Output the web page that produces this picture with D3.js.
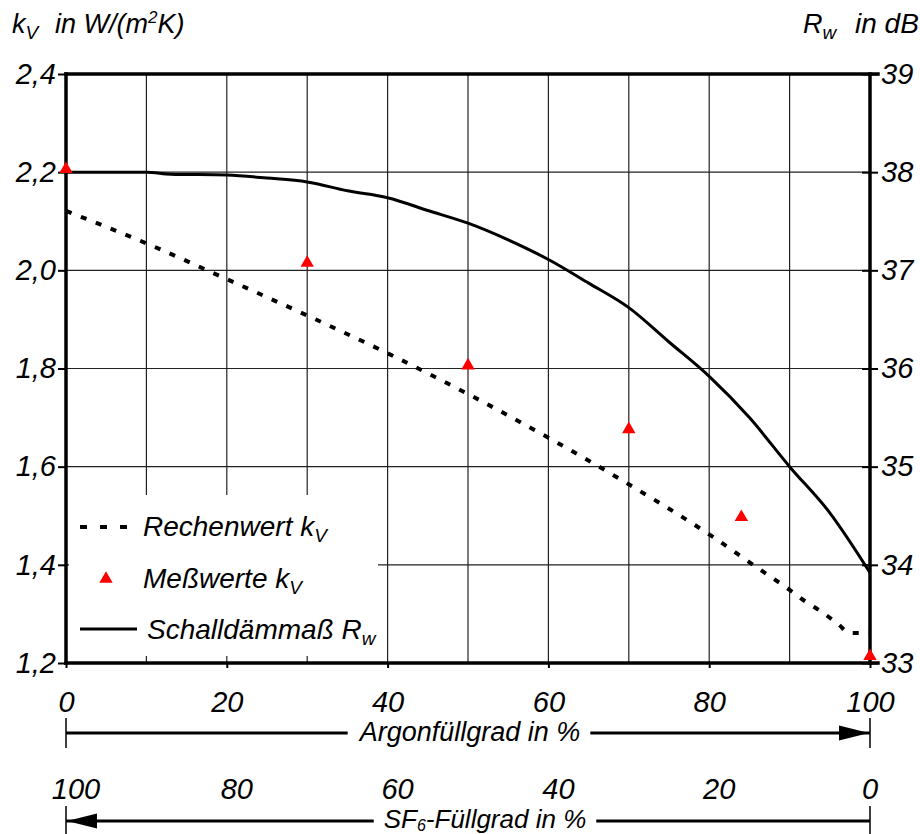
<!DOCTYPE html>
<html>
<head>
<meta charset="utf-8">
<script src="https://cdn.jsdelivr.net/npm/d3@7"></script>
<style>
  body { margin: 0; background: #fff; }
  text { font-family: "Liberation Sans", Arial, sans-serif; font-style: italic; fill: #000; }
</style>
</head>
<body>
<script>
// chart values
const gridPct = [0, 10, 20, 30, 40, 50, 60, 70, 80, 90, 100];
const argonTicks = [0, 20, 40, 60, 80, 100];
const sf6Ticks = [100, 80, 60, 40, 20, 0];
const kvTicks = [1.2, 1.4, 1.6, 1.8, 2.0, 2.2, 2.4];
const rwTicks = [33, 34, 35, 36, 37, 38, 39];

const rechenPct = [0, 10, 20, 30, 40, 50, 60, 70, 80, 86, 90, 92, 94, 96, 97.5, 100];
const rechenKv = [2.121, 2.055, 1.982, 1.908, 1.831, 1.748, 1.659, 1.564, 1.462, 1.394, 1.349, 1.325, 1.304, 1.28, 1.261, 1.261];

const messPct = [0, 30, 50, 70, 84, 100];
const messKv = [2.206, 2.015, 1.806, 1.676, 1.497, 1.214];

const schallPct = [0, 10, 13, 20, 25, 30, 35, 40, 45, 50, 55, 60, 65, 70, 75, 80, 85, 90, 95, 100];
const schallRw = [38, 38, 37.98, 37.97, 37.94, 37.9, 37.81, 37.74, 37.61, 37.48, 37.31, 37.11, 36.87, 36.62, 36.27, 35.92, 35.5, 35.0, 34.53, 33.92];

(function() {
  'use strict';

  let svgContainer = "";
  const comma = (v) => d3.format('.1f')(v).replace('.', ',');

  // scales
  const xScale = d3.scaleLinear().domain([0, 100]).range([66, 870]);
  const sfScale = d3.scaleLinear().domain([100, 0]).range([66, 870]);
  const yKv = d3.scaleLinear().domain([1.2, 2.4]).range([663, 74]);
  const yRw = d3.scaleLinear().domain([33, 39]).range([663, 74]);

  window.onload = function() {
    svgContainer = d3.select('body')
      .append('svg')
      .attr('width', 920)
      .attr('height', 834);

    svgContainer.append('rect')
      .attr('width', 920)
      .attr('height', 834)
      .attr('fill', '#fff');

    drawGrid();
    drawLegendBox();
    drawAxes();
    drawSeries();
    drawLegend();
    drawTitles();
    drawArrows();
  };

  // thin grid lines
  function drawGrid() {
    svgContainer.selectAll('.vgrid')
      .data(gridPct)
      .enter()
      .append('line')
        .attr('x1', d => xScale(d))
        .attr('x2', d => xScale(d))
        .attr('y1', yKv(2.4))
        .attr('y2', yKv(1.2))
        .attr('stroke', '#222')
        .attr('stroke-width', 1.2);

    svgContainer.selectAll('.hgrid')
      .data(kvTicks)
      .enter()
      .append('line')
        .attr('x1', xScale(0))
        .attr('x2', xScale(100))
        .attr('y1', d => yKv(d))
        .attr('y2', d => yKv(d))
        .attr('stroke', '#222')
        .attr('stroke-width', 1.2);
  }

  // white box behind the legend hides the grid
  function drawLegendBox() {
    svgContainer.append('rect')
      .attr('x', 69)
      .attr('y', 495)
      .attr('width', 309)
      .attr('height', 161)
      .attr('fill', '#fff');
  }

  function drawAxes() {
    // left axis
    let left = svgContainer.append('g')
      .attr('transform', 'translate(66, 0)')
      .call(d3.axisLeft(yKv).tickValues(kvTicks).tickFormat(comma)
        .tickSizeInner(8).tickSizeOuter(0).tickPadding(2));

    // right axis, ticks cross the line
    let right = svgContainer.append('g')
      .attr('transform', 'translate(870, 0)')
      .call(d3.axisRight(yRw).tickValues(rwTicks).tickFormat(d3.format('d'))
        .tickSizeInner(8).tickSizeOuter(0).tickPadding(3));
    right.selectAll('.tick line').attr('x1', -8);

    // bottom axis
    let bottom = svgContainer.append('g')
      .attr('transform', 'translate(0, 663)')
      .call(d3.axisBottom(xScale).tickValues(argonTicks).tickFormat(d3.format('d'))
        .tickSizeInner(5).tickSizeOuter(0).tickPadding(23));

    [left, right, bottom].forEach((g) => {
      g.select('.domain').remove();
      g.selectAll('.tick line').attr('stroke', '#000').attr('stroke-width', 2);
      g.selectAll('text')
        .style('font-family', '"Liberation Sans", Arial, sans-serif')
        .style('font-style', 'italic')
        .style('font-size', '29px')
        .attr('fill', '#000');
    });

    // heavy frame
    let frame = [
      [xScale(0), yKv(2.4), xScale(100) + 8, yKv(2.4)],
      [xScale(0), yKv(1.2), xScale(100) + 8, yKv(1.2)],
      [xScale(0), yKv(2.4), xScale(0), yKv(1.2)],
      [xScale(100), yKv(2.4), xScale(100), yKv(1.2)]
    ];
    svgContainer.selectAll('.frame')
      .data(frame)
      .enter()
      .append('line')
        .attr('x1', d => d[0])
        .attr('y1', d => d[1])
        .attr('x2', d => d[2])
        .attr('y2', d => d[3])
        .attr('stroke', '#000')
        .attr('stroke-width', 3.5)
        .attr('stroke-linecap', 'square');

    // second scale: SF6 fill level
    svgContainer.selectAll('.sfLabel')
      .data(sf6Ticks)
      .enter()
      .append('text')
        .attr('x', d => sfScale(d) + (d === 0 ? 0 : 10))
        .attr('y', 799)
        .attr('text-anchor', 'middle')
        .style('font-size', '29px')
        .text(d => d);
  }

  function drawSeries() {
    let rechen = rechenPct.map((p, i) => [p, rechenKv[i]]);
    let schall = schallPct.map((p, i) => [p, schallRw[i]]);
    let mess = messPct.map((p, i) => [p, messKv[i]]);

    // calculated kV, dashed
    svgContainer.append('path')
      .datum(rechen)
      .attr('d', d3.line().x(d => xScale(d[0])).y(d => yKv(d[1])).curve(d3.curveMonotoneX))
      .attr('fill', 'none')
      .attr('stroke', '#000')
      .attr('stroke-width', 4)
      .attr('stroke-dasharray', '6,10');

    // sound insulation Rw, solid
    svgContainer.append('path')
      .datum(schall)
      .attr('d', d3.line().x(d => xScale(d[0])).y(d => yRw(d[1])).curve(d3.curveMonotoneX))
      .attr('fill', 'none')
      .attr('stroke', '#000')
      .attr('stroke-width', 3);

    // measured kV, red triangles
    svgContainer.selectAll('.mess')
      .data(mess)
      .enter()
      .append('path')
        .attr('d', d3.symbol().type(d3.symbolTriangle).size(78))
        .attr('transform', d => 'translate(' + xScale(d[0]) + ',' + yKv(d[1]) + ')')
        .attr('fill', '#ff0000');
  }

  function drawLegend() {
    svgContainer.append('line')
      .attr('x1', 80).attr('x2', 132)
      .attr('y1', 527).attr('y2', 527)
      .attr('stroke', '#000')
      .attr('stroke-width', 4)
      .attr('stroke-dasharray', '7,13');

    svgContainer.append('path')
      .attr('d', d3.symbol().type(d3.symbolTriangle).size(78))
      .attr('transform', 'translate(106, 579)')
      .attr('fill', '#ff0000');

    svgContainer.append('line')
      .attr('x1', 80).attr('x2', 137)
      .attr('y1', 629).attr('y2', 629)
      .attr('stroke', '#000')
      .attr('stroke-width', 3);

    let t1 = svgContainer.append('text').attr('x', 143).attr('y', 536).style('font-size', '28px');
    t1.append('tspan').text('Rechenwert k');
    t1.append('tspan').attr('dy', 6).style('font-size', '19px').text('V');

    let t2 = svgContainer.append('text').attr('x', 143).attr('y', 588).style('font-size', '28px');
    t2.append('tspan').text('Meßwerte k');
    t2.append('tspan').attr('dy', 6).style('font-size', '19px').text('V');

    let t3 = svgContainer.append('text').attr('x', 147).attr('y', 639).style('font-size', '28px');
    t3.append('tspan').text('Schalldämmaß R');
    t3.append('tspan').attr('dy', 6).style('font-size', '19px').text('w');
  }

  function drawTitles() {
    let k = svgContainer.append('text').attr('x', 12).attr('y', 33).style('font-size', '27px');
    k.append('tspan').text('k');
    k.append('tspan').attr('dy', 6).style('font-size', '19px').text('V');

    let unit = svgContainer.append('text').attr('x', 55).attr('y', 33).style('font-size', '27px');
    unit.append('tspan').text('in W/(m');
    unit.append('tspan').attr('dy', -10).style('font-size', '17px').text('2');
    unit.append('tspan').attr('dy', 10).text('K)');

    let r = svgContainer.append('text').attr('x', 803).attr('y', 33).style('font-size', '27px');
    r.append('tspan').text('R');
    r.append('tspan').attr('dy', 6).style('font-size', '19px').text('w');

    svgContainer.append('text').attr('x', 855).attr('y', 33).style('font-size', '28px').text('in dB');
  }

  // double-ended scale bars with arrows under the chart
  function drawArrows() {
    let bars = [
      { y: 733, ty: 741, dir: 1, cx: 470, label: ['Argonfüllgrad in %'] },
      { y: 821, ty: 828, dir: -1, cx: 485, label: ['SF', '6', '-Füllgrad in %'] }
    ];

    bars.forEach((b) => {
      let x0 = xScale(0), x1 = xScale(100);

      svgContainer.append('line')
        .attr('x1', x0).attr('x2', x1)
        .attr('y1', b.y).attr('y2', b.y)
        .attr('stroke', '#000').attr('stroke-width', 3);

      [x0, x1].forEach((x) => {
        svgContainer.append('line')
          .attr('x1', x).attr('x2', x)
          .attr('y1', b.y - 15).attr('y2', b.y + 15)
          .attr('stroke', '#000').attr('stroke-width', 1.5);
      });

      let tip = b.dir > 0 ? x1 - 1 : x0 + 1;
      let back = tip - b.dir * 30;
      svgContainer.append('path')
        .attr('d', 'M' + tip + ',' + b.y + 'L' + back + ',' + (b.y - 7.5) + 'L' + back + ',' + (b.y + 7.5) + 'Z')
        .attr('fill', '#000');

      let t = svgContainer.append('text')
        .attr('x', b.cx).attr('y', b.ty)
        .attr('text-anchor', 'middle')
        .style('font-size', '26px');
      if (b.label.length === 1) {
        t.style('font-size', '27px').text(b.label[0]);
      } else {
        t.append('tspan').text(b.label[0]);
        t.append('tspan').attr('dy', 3).style('font-size', '16px').text(b.label[1]);
        t.append('tspan').attr('dy', -3).text(b.label[2]);
      }

      // white gap in the arrow line behind the label
      let box = t.node().getBBox();
      svgContainer.append('rect')
        .attr('x', box.x - 10)
        .attr('y', box.y)
        .attr('width', box.width + 20)
        .attr('height', Math.min(box.height, 834 - box.y))
        .attr('fill', '#fff');
      t.raise();
    });
  }

})();
</script>
</body>
</html>
